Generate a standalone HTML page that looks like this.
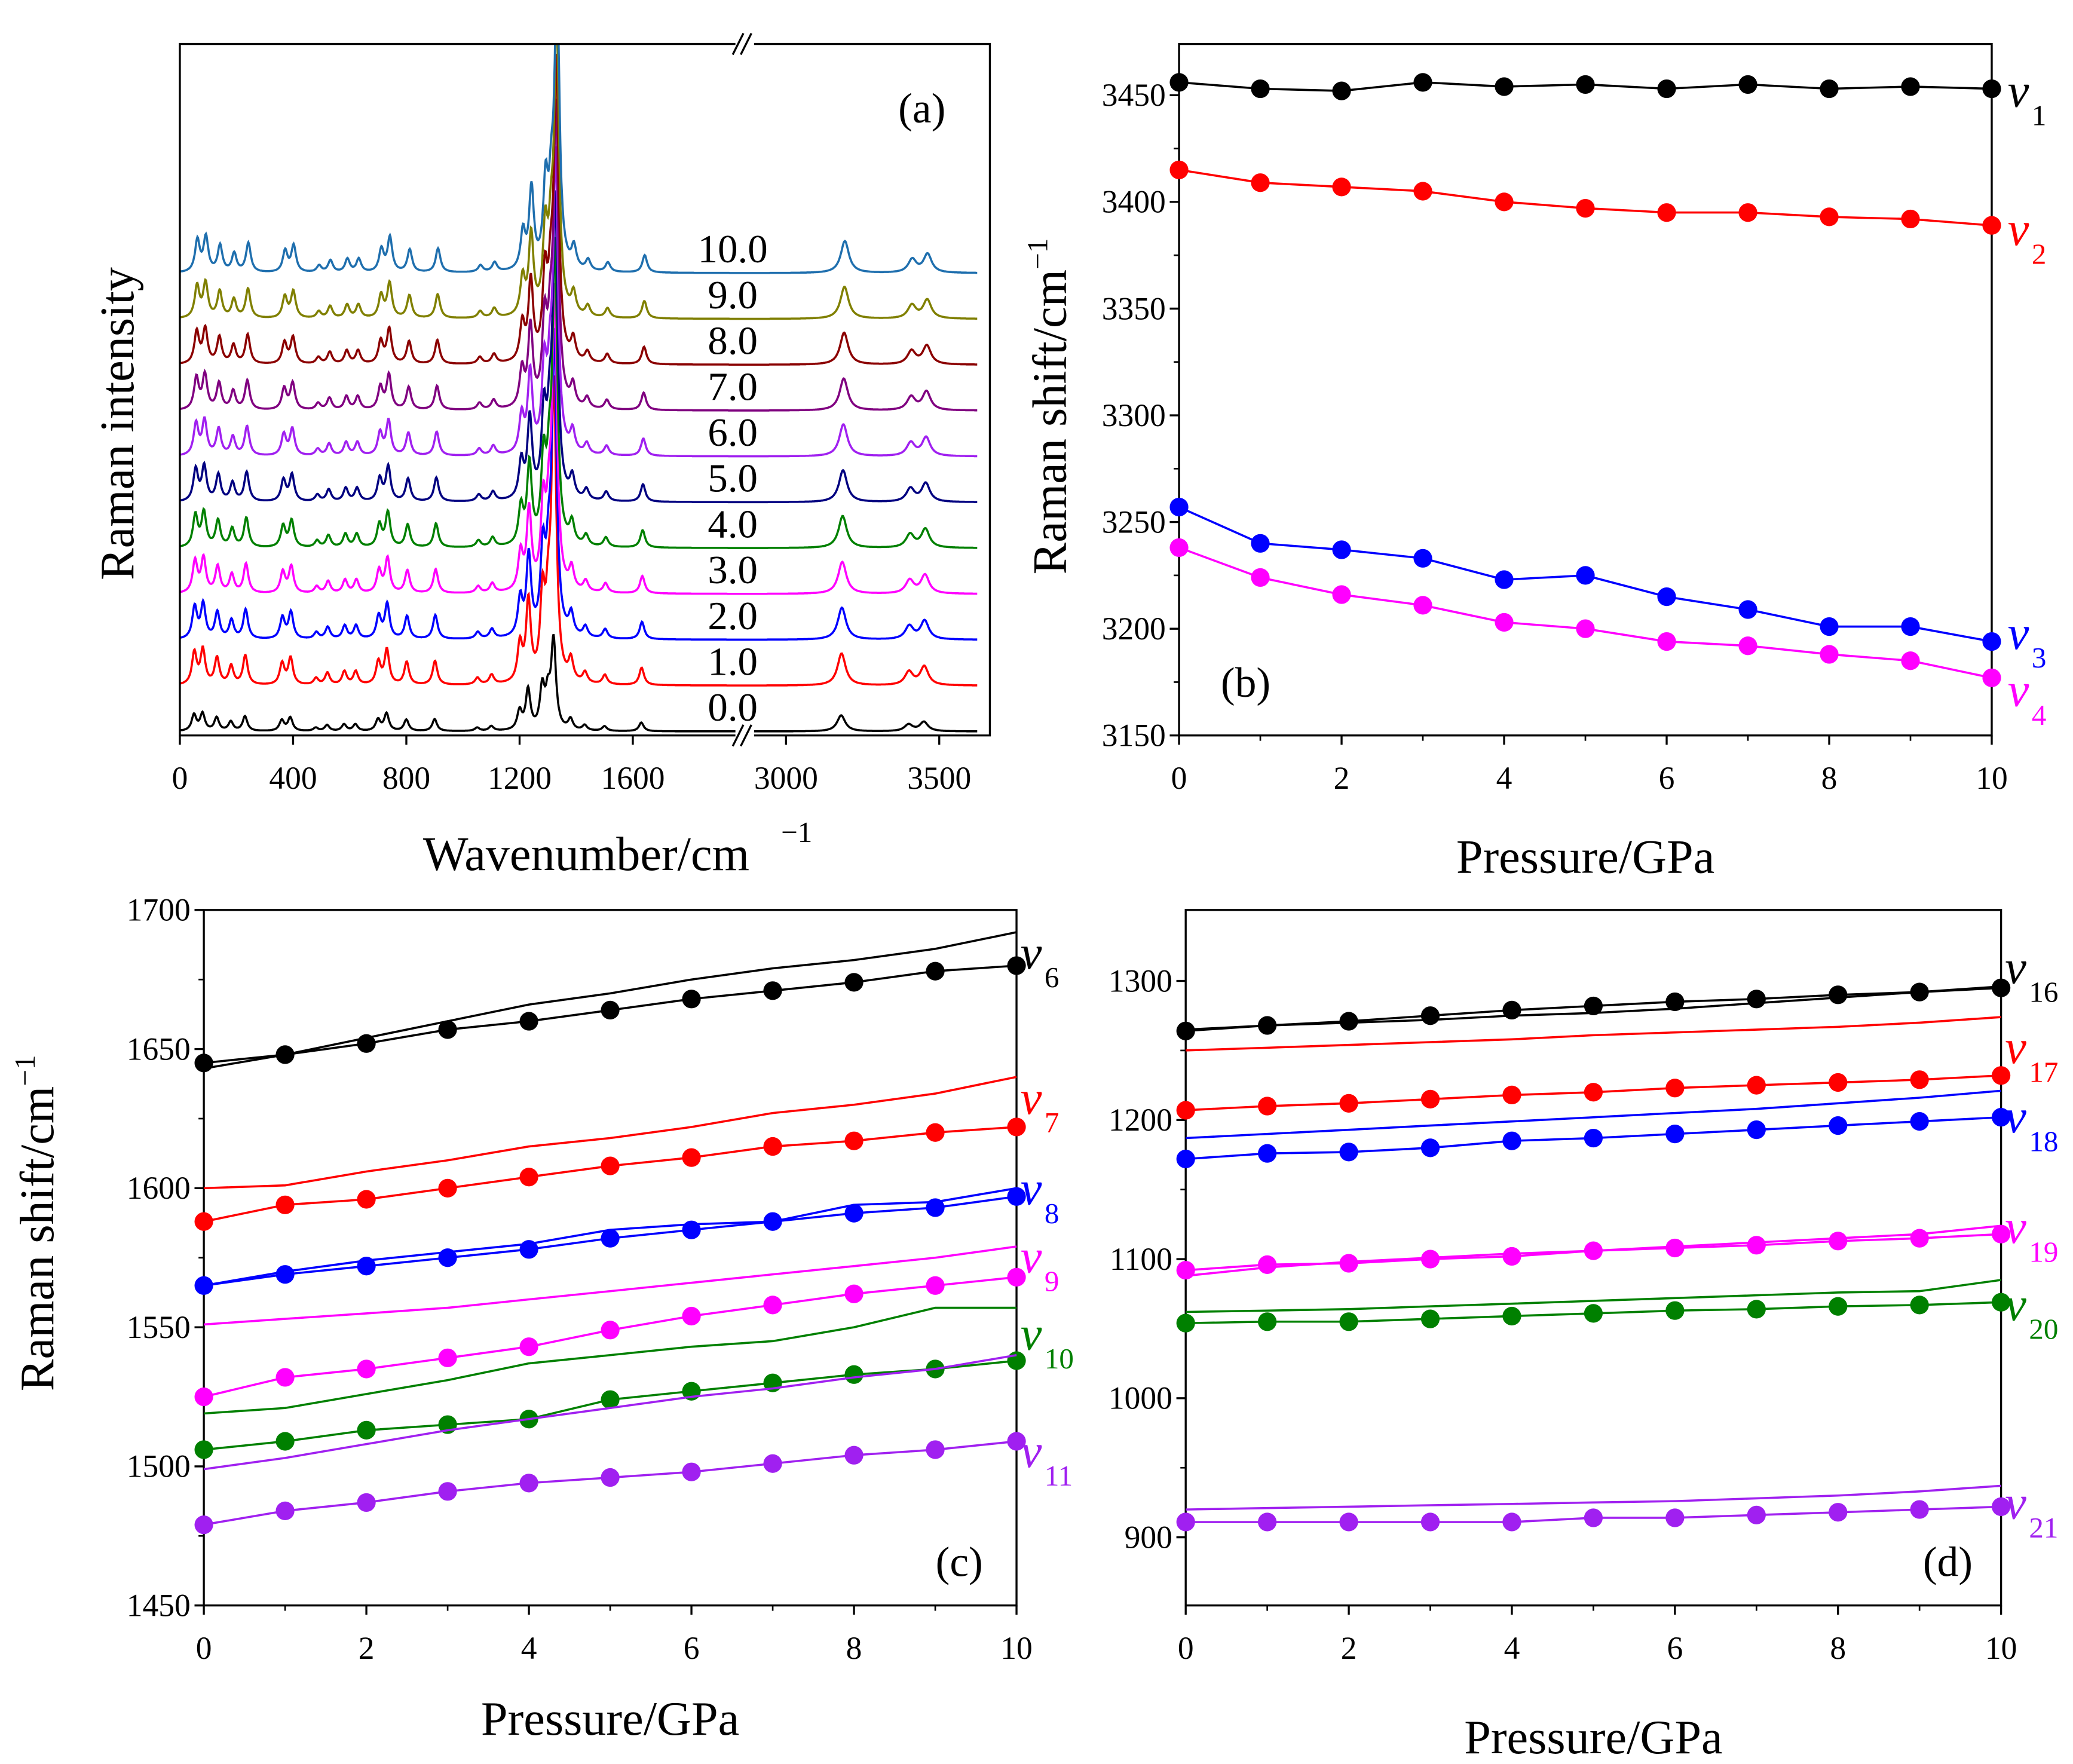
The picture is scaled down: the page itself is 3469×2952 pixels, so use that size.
<!DOCTYPE html>
<html><head><meta charset="utf-8"><style>
html,body{margin:0;padding:0;background:#fff}
svg{display:block}
text{font-family:"Liberation Serif",serif}
</style></head><body>
<svg id="fig" width="3469" height="2952" viewBox="0 0 1556 1324" preserveAspectRatio="none" xmlns="http://www.w3.org/2000/svg">
<rect width="1556" height="1324" fill="#fff"/>
<defs>
<clipPath id="clipA"><rect x="135" y="33" width="608" height="519"/></clipPath>
</defs>
<g id="pa"></g>
<g id="pb"></g>
<g id="pc"></g>
<g id="pd"></g>
</svg>
<script>
// ---------- data ----------
const pressures = [0,1,2,3,4,5,6,7,8,9,10];
const spectraLabels = ["0.0","1.0","2.0","3.0","4.0","5.0","6.0","7.0","8.0","9.0","10.0"];
const spectraColors = ["#000","#f00","#00f","#f0f","#008000","#000080","#a020f0","#800080","#8b0000","#808000","#1f6fae"];
const peakPos = [50,80,130,180,230,360,390,480,520,580,620,700,730,800,900,1050,1100,1200,1230,1280,1300,1320,1380,1430,1500,1630,3180,3400,3450];
const peakH   = [24,26,20,14,22,16,20,5,9,10,10,17,26,17,18,5,7,28,60,60,45,220,16,8,7,13,24,10,14];
const aXTicks = [0,400,800,1200,1600,3000,3500];

const bV1 = [3456,3453,3452,3456,3454,3455,3453,3455,3453,3454,3453];
const bV2 = [3415,3409,3407,3405,3400,3397,3395,3395,3393,3392,3389];
const bV3 = [3257,3240,3237,3233,3223,3225,3215,3209,3201,3201,3194];
const bV4 = [3238,3224,3216,3211,3203,3200,3194,3192,3188,3185,3177];
const bYTicks = [3150,3200,3250,3300,3350,3400,3450];

const cV6m = [1645,1648,1652,1657,1660,1664,1668,1671,1674,1678,1680];
const cV6l = [1643,1648,1654,1660,1666,1670,1675,1679,1682,1686,1692];
const cV7m = [1588,1594,1596,1600,1604,1608,1611,1615,1617,1620,1622];
const cV7l = [1600,1601,1606,1610,1615,1618,1622,1627,1630,1634,1640];
const cV8m = [1565,1569,1572,1575,1578,1582,1585,1588,1591,1593,1597];
const cV8l = [1565,1570,1574,1577,1580,1585,1587,1588,1594,1595,1600];
const cV9m = [1525,1532,1535,1539,1543,1549,1554,1558,1562,1565,1568];
const cV9l = [1551,1553,1555,1557,1560,1563,1566,1569,1572,1575,1579];
const cV10m = [1506,1509,1513,1515,1517,1524,1527,1530,1533,1535,1538];
const cV10l = [1519,1521,1526,1531,1537,1540,1543,1545,1550,1557,1557];
const cV11m = [1479,1484,1487,1491,1494,1496,1498,1501,1504,1506,1509];
const cV11l = [1499,1503,1508,1513,1517,1521,1525,1528,1532,1535,1540];
const cYTicks = [1450,1500,1550,1600,1650,1700];

const dV16m = [1264,1268,1271,1275,1279,1282,1285,1287,1290,1292,1295];
const dV16l = [1265,1268,1270,1272,1275,1277,1280,1284,1288,1292,1296];
const dV17m = [1207,1210,1212,1215,1218,1220,1223,1225,1227,1229,1232];
const dV17l = [1250,1252,1254,1256,1258,1261,1263,1265,1267,1270,1274];
const dV18m = [1172,1176,1177,1180,1185,1187,1190,1193,1196,1199,1202];
const dV18l = [1187,1190,1193,1196,1199,1202,1205,1208,1212,1216,1221];
const dV19m = [1092,1096,1097,1100,1102,1106,1108,1110,1113,1115,1118];
const dV19l = [1088,1094,1098,1101,1104,1106,1109,1112,1115,1118,1124];
const dV20m = [1054,1055,1055,1057,1059,1061,1063,1064,1066,1067,1069];
const dV20l = [1062,1063,1064,1066,1068,1070,1072,1074,1076,1077,1085];
const dV21m = [911,911,911,911,911,914,914,916,918,920,922];
const dV21l = [920,921,922,923,924,925,926,928,930,933,937];
const dYTicks = [900,1000,1100,1200,1300];
const xTicks = [0,2,4,6,8,10];

// ---------- helpers ----------
const NS="http://www.w3.org/2000/svg";
function mk(parent,tag,attrs,txt){const e=document.createElementNS(NS,tag);for(const k in attrs)e.setAttribute(k,attrs[k]);if(txt!==undefined)e.textContent=txt;parent.appendChild(e);return e;}
function txt(parent,x,y,s,size,anchor,fill,name){const t=mk(parent,'text',{x:x,y:y,'font-size':size,'text-anchor':anchor||'middle',fill:fill||'#000'},s);


return t;}

// ---------- panel a ----------
(function(){
 const g=document.getElementById('pa');
 const L=135,R=743,T=33,B=552;
 function xa(v){ if(v<=2000) return 135+v*85/400; return 590+(v-3000)*115/500; }
 const base0=549, gap=34.4;
 const clip=mk(g,'g',{'clip-path':'url(#clipA)'});
 spectraLabels.forEach((lab,i)=>{
  const base=base0-i*gap;
  const amp = i===0?0.5:1;
  let segs=[[0,1985],[2840,3625]];
  let d='';
  segs.forEach(sg=>{
   let first=true;
   for(let v=sg[0];v<=sg[1];v+=2){
    let y=0;
    for(let k=0;k<peakPos.length;k++){const w=peakPos[k]>3000?16:10;const dd=(v-peakPos[k]-i*1.2)/w;y+=peakH[k]*(k===21&&i===0?0.3:amp)/(1+dd*dd);}
    d+=(first?'M':'L')+xa(v).toFixed(1)+','+(base-y).toFixed(1);first=false;
   }
  });
  const p=mk(clip,'path',{d:d,fill:'none',stroke:spectraColors[i],'stroke-width':1.6});
  
  
  txt(g,550,base-8,lab,30,'middle','#000','spectrum-label-'+lab);
 });
 const box=mk(g,'path',{d:`M${L},${T}V${B}H${R}V${T}Z`,fill:'none',stroke:'#000','stroke-width':1.5});
 
 mk(g,'rect',{x:552,y:25,width:14,height:16,fill:'#fff'});
 mk(g,'rect',{x:552,y:544,width:14,height:16,fill:'#fff'});
 [[550,41,558,25],[556,41,564,25],[550,560,558,544],[556,560,564,544]].forEach(a=>mk(g,'line',{x1:a[0],y1:a[1],x2:a[2],y2:a[3],stroke:'#000','stroke-width':1.5}));
 aXTicks.forEach(v=>{const x=xa(v);mk(g,'line',{x1:x,y1:B,x2:x,y2:B+7,stroke:'#000','stroke-width':1.5});txt(g,x,B+40,String(v),24,'middle','#000','x-tick-a-'+v);});
 txt(g,692,92,'(a)',32,'middle','#000','panel-a-label');
 txt(g,440,653,'Wavenumber/cm',36,'middle','#000','x-axis-title-a');
 txt(g,598,632,'−1',22,'middle','#000','x-axis-title-a-exp');
 const yt=txt(g,100,318,'Raman intensity',36,'middle','#000','y-axis-title-a');yt.setAttribute('transform','rotate(-90 100 318)');
})();

// ---------- generic xy panel ----------
function panel(gid,L,R,T,B,ymin,ymax,yTicks,minorStep,series,labels,plab,plabPos,yLabels,xTitleY,yTitle){
 const g=document.getElementById(gid);
 const xs=v=>L+(v-0)*(R-L)/10, ys=v=>B-(v-ymin)*(B-T)/(ymax-ymin);
 const f=mk(g,'rect',{x:L,y:T,width:R-L,height:B-T,fill:'none',stroke:'#000','stroke-width':1.5});
 
 xTicks.forEach(v=>{mk(g,'line',{x1:xs(v),y1:B,x2:xs(v),y2:B+7,stroke:'#000','stroke-width':1.5});txt(g,xs(v),B+40,String(v),24,'middle','#000',gid+'-x-tick-'+v);});
 for(let v=1;v<10;v+=2)mk(g,'line',{x1:xs(v),y1:B,x2:xs(v),y2:B+4,stroke:'#000','stroke-width':1.2});
 yTicks.forEach(v=>{mk(g,'line',{x1:L,y1:ys(v),x2:L-7,y2:ys(v),stroke:'#000','stroke-width':1.5});txt(g,L-10,ys(v)+8,String(v),24,'end','#000',gid+'-y-tick-'+v);});
 for(let v=yTicks[0]+minorStep;v<yTicks[yTicks.length-1];v+=minorStep*2)mk(g,'line',{x1:L,y1:ys(v),x2:L-4,y2:ys(v),stroke:'#000','stroke-width':1.2});
 series.forEach(s=>{
  const pts=pressures.map((p,i)=>xs(p).toFixed(1)+','+ys(s.v[i]).toFixed(1)).join(' ');
  const pl=mk(g,'polyline',{points:pts,fill:'none',stroke:s.c,'stroke-width':1.6});
  
  if(s.m) pressures.forEach((p,i)=>{const c=mk(g,'circle',{cx:xs(p),cy:ys(s.v[i]),r:7,fill:s.c});
   });
 });
 labels.forEach(l=>{
  const t=mk(g,'text',{x:l.x,y:l.y,'font-size':36,'font-style':'italic',fill:l.c},'v');
  
  const s=mk(g,'text',{x:l.x+18,y:l.y+14,'font-size':22,fill:l.c},l.s);
  
 });
 txt(g,plabPos[0],plabPos[1],plab,32,'middle','#000',gid+'-label');
 txt(g,(L+R)/2,xTitleY,'Pressure/GPa',36,'middle','#000',gid+'-x-axis-title');
 const yt=mk(g,'text',{x:yLabels[0],y:yLabels[1],'font-size':36,'text-anchor':'middle',transform:`rotate(-90 ${yLabels[0]} ${yLabels[1]})`});
 
 yt.appendChild(document.createTextNode('Raman shift/cm'));
 const ts=mk(yt,'tspan',{'font-size':22,dy:-14},'−1');
}
panel('pb',885,1495,33,552,3150,3474,bYTicks,25,
 [{v:bV1,c:'#000',m:1,n:'v1'},{v:bV2,c:'#f00',m:1,n:'v2'},{v:bV3,c:'#00f',m:1,n:'v3'},{v:bV4,c:'#f0f',m:1,n:'v4'}],
 [{x:1507,y:80,c:'#000',s:'1'},{x:1507,y:184,c:'#f00',s:'2'},{x:1507,y:487,c:'#00f',s:'3'},{x:1507,y:530,c:'#f0f',s:'4'}],
 '(b)',[935,523],[800,305],655);
panel('pc',153,763,683,1205,1450,1700,cYTicks,25,
 [{v:cV6l,c:'#000',n:'v6'},{v:cV6m,c:'#000',m:1,n:'v6'},{v:cV7l,c:'#f00',n:'v7'},{v:cV7m,c:'#f00',m:1,n:'v7'},
  {v:cV8l,c:'#00f',n:'v8'},{v:cV8m,c:'#00f',m:1,n:'v8'},{v:cV9l,c:'#f0f',n:'v9'},{v:cV9m,c:'#f0f',m:1,n:'v9'},
  {v:cV10l,c:'#008000',n:'v10'},{v:cV10m,c:'#008000',m:1,n:'v10'},{v:cV11l,c:'#a020f0',n:'v11'},{v:cV11m,c:'#a020f0',m:1,n:'v11'}],
 [{x:766,y:727,c:'#000',s:'6'},{x:766,y:836,c:'#f00',s:'7'},{x:766,y:904,c:'#00f',s:'8'},{x:766,y:955,c:'#f0f',s:'9'},{x:766,y:1013,c:'#008000',s:'10'},{x:766,y:1101,c:'#a020f0',s:'11'}],
 '(c)',[720,1183],[40,918],1302);
panel('pd',890,1502,683,1205,851,1351,dYTicks,50,
 [{v:dV16l,c:'#000',n:'v16'},{v:dV16m,c:'#000',m:1,n:'v16'},{v:dV17l,c:'#f00',n:'v17'},{v:dV17m,c:'#f00',m:1,n:'v17'},
  {v:dV18l,c:'#00f',n:'v18'},{v:dV18m,c:'#00f',m:1,n:'v18'},{v:dV19l,c:'#f0f',n:'v19'},{v:dV19m,c:'#f0f',m:1,n:'v19'},
  {v:dV20l,c:'#008000',n:'v20'},{v:dV20m,c:'#008000',m:1,n:'v20'},{v:dV21l,c:'#a020f0',n:'v21'},{v:dV21m,c:'#a020f0',m:1,n:'v21'}],
 [{x:1505,y:738,c:'#000',s:'16'},{x:1505,y:798,c:'#f00',s:'17'},{x:1505,y:850,c:'#00f',s:'18'},{x:1505,y:933,c:'#f0f',s:'19'},{x:1505,y:991,c:'#008000',s:'20'},{x:1505,y:1140,c:'#a020f0',s:'21'}],
 '(d)',[1462,1183],[-999,-999],1316);
</script>
</body></html>
